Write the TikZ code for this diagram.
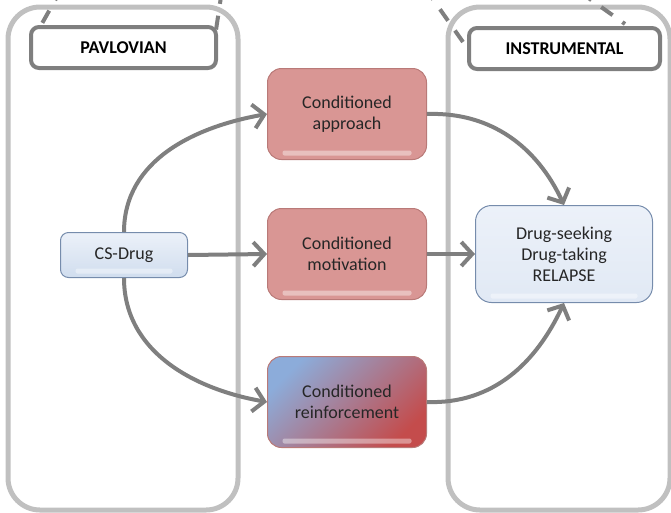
\documentclass[tikz,border=0pt]{standalone}
\usepackage{fontspec}
\setmainfont{Carlito}
\usetikzlibrary{arrows.meta,positioning}
\definecolor{linegray}{RGB}{127,127,127}
\definecolor{panelgray}{RGB}{192,192,192}
\definecolor{textgray}{RGB}{38,38,38}
\definecolor{redfill}{RGB}{217,150,148}
\definecolor{redline}{RGB}{185,122,120}
\definecolor{bluetop}{RGB}{236,241,249}
\definecolor{bluebot}{RGB}{208,221,238}
\definecolor{blueline}{RGB}{118,140,172}
\definecolor{reinfblue}{RGB}{140,172,218}
\definecolor{reinfred}{RGB}{196,76,76}

\begin{document}
\begin{tikzpicture}[
		x=1pt,y=-1pt,
		every node/.style={font=\fontsize{18}{21}\selectfont,text=textgray,align=center},
		panel/.style={draw=panelgray,line width=5pt,rounded corners=32pt},
		header/.style={draw=linegray,line width=4pt,rounded corners=8pt,fill=white,
			minimum height=41pt,font=\fontsize{18}{21}\selectfont\bfseries,text=black},
		shine/.style={path picture={\fill[white,opacity=0.4,rounded corners=2pt]
			([xshift=15pt,yshift=4pt]path picture bounding box.south west) rectangle
			([xshift=-15pt,yshift=9pt]path picture bounding box.south east);}},
		cue/.style={draw=blueline,line width=1pt,rounded corners=8pt,top color=bluetop,
			bottom color=bluebot,shine,minimum width=127pt,minimum height=45pt},
		effect/.style={draw=redline,line width=1pt,rounded corners=14pt,fill=redfill,
			shine,minimum width=159pt,minimum height=91pt},
		outcome/.style={draw=blueline,line width=1pt,rounded corners=16pt,top color=bluetop,
			bottom color=bluetop!60!bluebot,shine,minimum width=177pt,minimum height=97pt},
		link/.style={draw=linegray,line width=4pt,-{Straight Barb[length=11pt,width=24pt]}},
		dashline/.style={draw=linegray,line width=4pt,dash pattern=on 14pt off 12pt}
		]
	\clip (0,0) rectangle (671,512);
	\useasboundingbox (0,0) rectangle (671,512);

	% panels
	\draw[panel] (8,7) rectangle (238,510);
	\draw[panel] (448,7) rectangle (670,510);

	% dashed lines from above
	\coordinate (pavfromA) at (62,-12);
	\coordinate (pavtoA) at (40,27);
	\coordinate (pavfromB) at (222,-10);
	\coordinate (pavtoB) at (216,30);
	\coordinate (insfromA) at (425,-12);
	\coordinate (instoA) at (463,42);
	\coordinate (insfromB) at (580,-8);
	\coordinate (instoB) at (625,24);
	\draw[dashline] (pavfromA) -- (pavtoA);
	\draw[dashline] (pavfromB) -- (pavtoB);
	\draw[dashline] (insfromA) -- (instoA);
	\draw[dashline] (insfromB) -- (instoB);

	% headers
	\node[header,minimum width=185pt] (pav) at (123.5,47.5) {PAVLOVIAN};
	\node[header,minimum width=191pt] (ins) at (564.5,48.5) {INSTRUMENTAL};

	% boxes
	\node[cue] (cs) at (124,255) {CS-Drug};
	\node[effect] (appr) at (347,114) {Conditioned\\approach};
	\node[effect] (motiv) at (347,254) {Conditioned\\motivation};
	\node[effect,top color=reinfblue,bottom color=reinfred,shading angle=45] (reinf) at (347,402) {Conditioned\\reinforcement};
	\node[outcome] (drug) at (564,254) {Drug-seeking\\Drug-taking\\RELAPSE};

	% connectors
	\draw[link] (cs.north) to[out=90,in=190] (appr.west);
	\draw[link] (cs.east) -- (motiv.west);
	\draw[link] (cs.south) to[out=-90,in=170] (reinf.west);
	\draw[link] (appr.east) to[out=2,in=115] (drug.north);
	\draw[link] (motiv.east) -- (drug.west);
	\draw[link] (reinf.east) to[out=-2,in=-115] (drug.south);
\end{tikzpicture}
\end{document}
